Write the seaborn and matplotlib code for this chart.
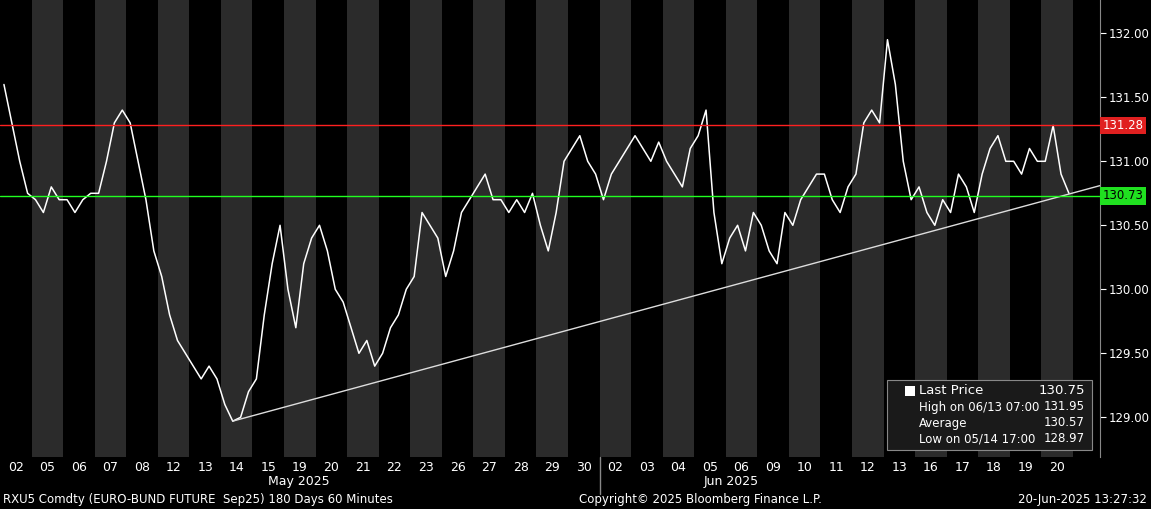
import matplotlib.pyplot as plt
import seaborn as sns
import pandas as pd
import numpy as np

# trading days and 4 price readings per day (approx)
days = ['02', '05', '06', '07', '08', '12', '13', '14', '15', '19', '20', '21', '22', '23',
        '26', '27', '28', '29', '30',
        '02', '03', '04', '05', '06', '09', '10', '11', '12', '13', '16', '17', '18', '19', '20']
prices = [
    [131.6, 131.3, 131.0, 130.75], [130.7, 130.6, 130.8, 130.7], [130.7, 130.6, 130.7, 130.75],
    [130.75, 131.0, 131.3, 131.4], [131.3, 131.0, 130.7, 130.3],
    [130.1, 129.8, 129.6, 129.5], [129.4, 129.3, 129.4, 129.3], [129.1, 128.97, 129.0, 129.2],
    [129.3, 129.8, 130.2, 130.5], [130.0, 129.7, 130.2, 130.4],
    [130.5, 130.3, 130.0, 129.9], [129.7, 129.5, 129.6, 129.4], [129.5, 129.7, 129.8, 130.0],
    [130.1, 130.6, 130.5, 130.4], [130.1, 130.3, 130.6, 130.7], [130.8, 130.9, 130.7, 130.7],
    [130.6, 130.7, 130.6, 130.75], [130.5, 130.3, 130.6, 131.0], [131.1, 131.2, 131.0, 130.9],
    [130.7, 130.9, 131.0, 131.1], [131.2, 131.1, 131.0, 131.15], [131.0, 130.9, 130.8, 131.1],
    [131.2, 131.4, 130.6, 130.2], [130.4, 130.5, 130.3, 130.6], [130.5, 130.3, 130.2, 130.6],
    [130.5, 130.7, 130.8, 130.9], [130.9, 130.7, 130.6, 130.8], [130.9, 131.3, 131.4, 131.3],
    [131.95, 131.6, 131.0, 130.7], [130.8, 130.6, 130.5, 130.7], [130.6, 130.9, 130.8, 130.6],
    [130.9, 131.1, 131.2, 131.0], [131.0, 130.9, 131.1, 131.0], [131.0, 131.28, 130.9, 130.75],
]
slots = [0.125, 0.375, 0.625, 0.875]
high_line = 131.28
low_line = 130.73
trend_start = (7.375, 128.97)
trend_end = (34.86, 130.81)

legend_rows = [('Last Price', '130.75'), ('High on 06/13 07:00', '131.95'),
               ('Average', '130.57'), ('Low on 05/14 17:00', '128.97')]

xs, ys = [], []
for i, day in enumerate(prices):
    for s, p in zip(slots, day):
        xs.append(i + s)
        ys.append(p)
df = pd.DataFrame({'x': xs, 'price': ys})

sns.set_style('dark')
plt.rcParams['font.family'] = ['DejaVu Sans']
fig = plt.figure(figsize=(11.51, 5.09), dpi=100, facecolor='black')
ax = fig.add_axes([0, 1 - 457 / 509, 1100 / 1151, 457 / 509])
ax.set_facecolor('black')

for i in range(len(days)):
    if i % 2 == 1:
        ax.axvspan(i, i + 1, color='#2b2b2b', lw=0)

sns.lineplot(data=df, x='x', y='price', ax=ax, color='white', lw=1.1)
ax.plot([trend_start[0], trend_end[0]], [trend_start[1], trend_end[1]], color='#dddddd', lw=1)
ax.axhline(high_line, color='#ff2020', lw=1)
ax.axhline(low_line, color='#20ff20', lw=1)

ax.set_xlim(0, 34.86)
ax.set_ylim(128.69, 132.26)
ax.yaxis.tick_right()
ticks = np.arange(129.0, 132.01, 0.5)
ax.set_yticks(ticks)
ax.set_yticklabels([f'{v:.2f}' for v in ticks], color='white', fontsize=8.5)
ax.tick_params(axis='y', colors='white', length=4, direction='out', pad=2)
ax.set_xticks([i + 0.5 for i in range(len(days))])
ax.set_xticklabels(days, color='white', fontsize=9)
ax.tick_params(axis='x', colors='white', length=0, pad=3)
ax.set_xlabel('')
ax.set_ylabel('')
ax.grid(False)
for sp in ax.spines.values():
    sp.set_visible(False)
ax.spines['right'].set_visible(True)
ax.spines['right'].set_color('#888888')
ax.axvline(19, ymin=-0.08, ymax=0, color='#888888', lw=1, clip_on=False)

# value tags on the right axis
for val, fc in [(high_line, '#e02020'), (low_line, '#20e020')]:
    ax.annotate(f'{val:.2f}', xy=(1, val), xycoords=('axes fraction', 'data'), xytext=(2, 0),
                textcoords='offset points', va='center', ha='left', fontsize=8.5,
                color='white' if fc == '#e02020' else 'black',
                bbox=dict(boxstyle='square,pad=0.2', fc=fc, ec='none'))

# legend box
lx = 887 / 1151
fig.patches.append(plt.Rectangle((lx, 1 - 450 / 509), 205 / 1151, 70 / 509, transform=fig.transFigure,
                                 fc='#1a1a1a', ec='#888888', lw=0.8))
for k, (name, val) in enumerate(legend_rows):
    y = 1 - (391 + k * 16) / 509
    fig.text(lx + 32 / 1151, y, name, color='white', fontsize=9.5 if k == 0 else 8.5, va='center')
    fig.text(lx + 198 / 1151, y, val, color='white', fontsize=9.5 if k == 0 else 8.5, va='center', ha='right')
fig.patches.append(plt.Rectangle((lx + 18 / 1151, 1 - 396 / 509), 10 / 1151, 10 / 509,
                                 transform=fig.transFigure, fc='white', ec='none'))

fig.text(268 / 1151, 1 - 482 / 509, 'May 2025', color='white', fontsize=9, va='center')
fig.text(704 / 1151, 1 - 482 / 509, 'Jun 2025', color='white', fontsize=9, va='center')
fig.text(3 / 1151, 1 - 500 / 509, 'RXU5 Comdty (EURO-BUND FUTURE  Sep25) 180 Days 60 Minutes',
         color='white', fontsize=8.5, va='center')
fig.text(700 / 1151, 1 - 500 / 509, 'Copyright\u00a9 2025 Bloomberg Finance L.P.', color='white',
         fontsize=8.5, va='center', ha='center')
fig.text(1147 / 1151, 1 - 500 / 509, '20-Jun-2025 13:27:32', color='white', fontsize=8.5,
         va='center', ha='right')

fig.savefig('out.png', dpi=100, facecolor='black')
